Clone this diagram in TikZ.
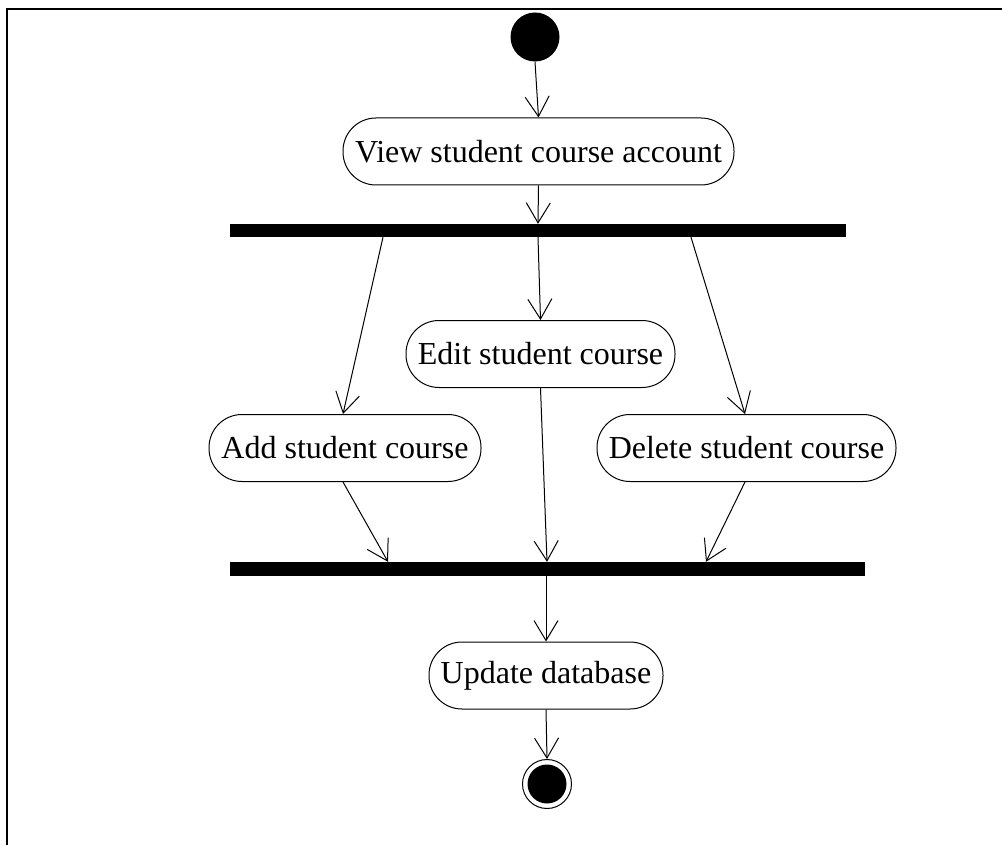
\documentclass[tikz,border=0pt]{standalone}
\usepackage{fontspec}
\setmainfont{Liberation Serif}
\usetikzlibrary{arrows.meta}
\begin{document}
\begin{tikzpicture}[x=1pt,y=-1pt,
  action/.style={draw, line width=1pt, rectangle, rounded corners=33pt,
    minimum height=67pt, inner sep=0pt, font=\fontsize{32}{37}\selectfont},
  bar/.style={fill=black, inner sep=0pt, minimum height=13pt},
  flow/.style={draw, line width=1pt, -{Straight Barb[length=20pt,width=24pt,line width=1pt]}},
  frame/.style={draw, line width=2pt}]
  \useasboundingbox (0,0) rectangle (1002,845);
  % outer frame (only top and left edges fall inside the page)
  \draw[frame] (6.5,845) -- (6.5,9.5) -- (1002,9.5);

  % initial and final states
  \node[circle, fill=black, minimum size=49pt, inner sep=0pt] (start) at (535,37) {};
  \node[circle, draw, line width=1pt, minimum size=49pt, inner sep=0pt] (stop) at (547,784) {};
  \node[circle, fill=black, minimum size=39pt, inner sep=0pt] (stopdot) at (547,784) {};

  % actions
  \node[action, minimum width=391pt] (view) at (538.5,151.5) {View student course account};
  \node[action, minimum width=269pt] (edit) at (540.5,354) {Edit student course};
  \node[action, minimum width=272pt] (add) at (345,448) {Add student course};
  \node[action, minimum width=299pt] (del) at (746.5,448) {Delete student course};
  \node[action, minimum width=234pt] (upd) at (546,675.5) {Update database};

  % fork and join bars
  \node[bar, minimum width=616pt] (fork) at (538,230.5) {};
  \node[bar, minimum width=635pt, minimum height=14pt] (join) at (547.5,569) {};

  % transitions
  \draw[flow] (start.south) -- (view.north);
  \draw[flow] (view.south) -- (fork.north);
  \draw[flow] ([xshift=-155pt]fork.south) -- ([xshift=-2pt]add.north);
  \draw[flow] (fork.south) -- (edit.north);
  \draw[flow] ([xshift=153pt]fork.south) -- ([xshift=-1.5pt]del.north);
  \draw[flow] ([xshift=-2pt]add.south) -- ([xshift=-159.5pt]join.north);
  \draw[flow] (edit.south) -- ([xshift=-0.5pt]join.north);
  \draw[flow] ([xshift=-1.5pt]del.south) -- ([xshift=158.5pt]join.north);
  \draw[flow] ([xshift=-1.5pt]join.south) -- (upd.north);
  \draw[flow] (upd.south) -- (stop.north);
\end{tikzpicture}
\end{document}
